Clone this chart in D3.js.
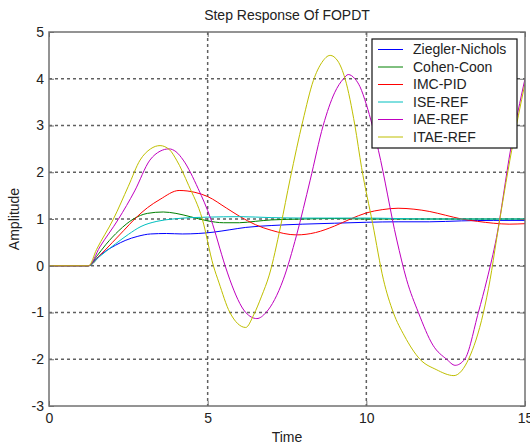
<!DOCTYPE html>
<html>
<head>
<meta charset="utf-8">
<script src="https://cdn.jsdelivr.net/npm/d3@7"></script>
<style>
  body { margin: 0; background: #fff; }
  svg text { font-family: "Liberation Sans", Arial, Helvetica, sans-serif; }
</style>
</head>
<body>
<div id="container"></div>
<script>
// series names and colours (MATLAB default order)
const seriesNames = ["Ziegler-Nichols", "Cohen-Coon", "IMC-PID", "ISE-REF", "IAE-REF", "ITAE-REF"];
const seriesColors = ["#0000ff", "#008000", "#ff0000", "#00bfbf", "#bf00bf", "#bfbf00"];

// values
const tZN = [0, 1.25, 1.5, 1.8, 2.1, 2.4, 2.8, 3.2, 3.7, 4.2, 4.7, 5.2, 5.7, 6.2, 7, 8, 9, 10, 11, 12, 13, 14, 15];
const yZN = [0, 0, 0.16, 0.32, 0.44, 0.54, 0.63, 0.68, 0.69, 0.68, 0.69, 0.72, 0.77, 0.82, 0.86, 0.89, 0.91, 0.93, 0.94, 0.94, 0.96, 0.97, 0.97];

const tCC = [0, 1.25, 1.5, 1.8, 2.2, 2.66, 3.1, 3.6, 4.0, 4.45, 5.0, 5.5, 6.0, 6.5, 7.0, 8, 9, 10, 11, 12, 13, 14, 15];
const yCC = [0, 0, 0.2, 0.46, 0.75, 1.0, 1.12, 1.15, 1.12, 1.05, 0.96, 0.92, 0.92, 0.95, 0.98, 1.0, 1.01, 1.0, 1.0, 1.0, 1.0, 1.0, 1.0];

const tIMC = [0, 1.25, 1.6, 2.0, 2.35, 2.7, 3.1, 3.5, 4.1, 4.6, 5.0, 5.6, 6.0, 6.5, 7.0, 7.8, 8.4, 9.0, 9.5, 10.0, 10.5, 11.0, 11.5, 12.0, 12.5, 13.0, 13.5, 14.0, 14.5, 15];
const yIMC = [0, 0, 0.22, 0.5, 0.75, 1.0, 1.24, 1.42, 1.61, 1.57, 1.48, 1.23, 1.06, 0.88, 0.76, 0.66, 0.71, 0.85, 1.0, 1.13, 1.2, 1.23, 1.21, 1.16, 1.08, 1.0, 0.95, 0.91, 0.89, 0.9];

const tISE = [0, 1.25, 1.6, 2.1, 2.5, 2.9, 3.4, 3.9, 4.5, 5.0, 6.0, 7, 8, 9, 10, 11, 12, 13, 14, 15];
const yISE = [0, 0, 0.2, 0.47, 0.67, 0.84, 0.95, 1.0, 1.03, 1.04, 1.05, 1.03, 1.02, 1.02, 1.02, 1.01, 1.0, 1.0, 1.0, 1.0];

const tIAE = [0, 1.25, 1.6, 2.19, 2.7, 3.18, 3.5, 3.78, 4.0, 4.23, 4.7, 5.1, 5.55, 5.7, 6.2, 6.55, 6.84, 7.38, 7.8, 8.23, 8.64, 9.0, 9.28, 9.43, 9.64, 9.8, 10.0, 10.38, 10.96, 11.27, 11.64, 12.1, 12.53, 12.8, 13.1, 13.53, 13.8, 14.1, 14.55, 15];
const yIAE = [0, 0, 0.4, 1.0, 1.6, 2.26, 2.45, 2.5, 2.44, 2.26, 1.65, 1.0, 0.0, -0.3, -1.0, -1.13, -1.0, -0.3, 0.65, 1.83, 3.0, 3.7, 4.0, 4.09, 4.0, 3.83, 3.45, 2.47, 0.55, -0.3, -1.0, -1.7, -2.0, -2.13, -2.0, -1.0, -0.3, 0.6, 2.5, 4.0];

const tITAE = [0, 1.25, 1.5, 2.03, 2.5, 2.87, 3.2, 3.5, 3.8, 4.02, 4.4, 4.83, 5.18, 5.35, 5.7, 6.2, 6.45, 6.7, 6.94, 7.3, 7.6, 8.0, 8.33, 8.6, 8.86, 9.1, 9.33, 9.64, 9.85, 10.2, 10.54, 10.85, 11.2, 11.69, 12.2, 12.76, 13.0, 13.22, 13.69, 13.9, 14.1, 14.58, 15];
const yITAE = [0, 0, 0.35, 1.0, 1.7, 2.26, 2.5, 2.57, 2.48, 2.26, 1.72, 1.0, 0.0, -0.35, -1.0, -1.32, -1.05, -0.65, -0.2, 0.85, 1.86, 3.1, 3.96, 4.35, 4.5, 4.38, 4.0, 3.0, 2.1, 0.9, -0.3, -1.0, -1.5, -2.0, -2.22, -2.35, -2.25, -2.0, -1.0, -0.3, 0.55, 2.47, 3.9];

const xTicks = [0, 5, 10, 15];
const yTicks = [-3, -2, -1, 0, 1, 2, 3, 4, 5];

const seriesT = [tZN, tCC, tIMC, tISE, tIAE, tITAE];
const seriesY = [yZN, yCC, yIMC, yISE, yIAE, yITAE];

const W = 530, H = 447;
const margin = { top: 32, right: 5, bottom: 41, left: 49 };
const width = W - margin.left - margin.right;
const height = H - margin.top - margin.bottom;
const axisColor = "#707070";
const textColor = "#222";

const svg = d3.select("#container").append("svg")
  .attr("width", W)
  .attr("height", H);

svg.append("rect").attr("width", W).attr("height", H).attr("fill", "#fff");

const g = svg.append("g")
  .attr("transform", `translate(${margin.left}, ${margin.top})`);

const x = d3.scaleLinear().domain([0, 15]).range([0, width]);
const y = d3.scaleLinear().domain([-3, 5]).range([height, 0]);

// grid (dotted)
g.append("g").selectAll("line")
  .data(xTicks.slice(1, -1))
  .join("line")
  .attr("x1", d => x(d)).attr("x2", d => x(d))
  .attr("y1", 0).attr("y2", height)
  .attr("stroke", "#606060")
  .attr("stroke-width", 1.5)
  .attr("stroke-dasharray", "3,3");

g.append("g").selectAll("line")
  .data(yTicks.slice(1, -1))
  .join("line")
  .attr("y1", d => y(d)).attr("y2", d => y(d))
  .attr("x1", 0).attr("x2", width)
  .attr("stroke", "#606060")
  .attr("stroke-width", 1.5)
  .attr("stroke-dasharray", "3,3");

// curves
g.append("clipPath").attr("id", "plot-clip")
  .append("rect").attr("width", width).attr("height", height);

const line = d3.line()
  .x(d => x(d[0]))
  .y(d => y(d[1]))
  .curve(d3.curveMonotoneX);

seriesNames.forEach((name, i) => {
  const pts = seriesT[i].map((t, j) => [t, seriesY[i][j]]);
  g.append("path")
    .datum(pts)
    .attr("clip-path", "url(#plot-clip)")
    .attr("fill", "none")
    .attr("stroke", seriesColors[i])
    .attr("stroke-width", 1)
    .attr("d", line);
});

// axes with inward ticks
function styleAxis(sel) {
  sel.select(".domain").remove();
  sel.selectAll(".tick line").attr("stroke", axisColor).attr("stroke-width", 1);
  sel.selectAll(".tick text")
    .attr("fill", textColor)
    .style("font-size", "14px")
    .style("font-family", "'Liberation Sans', Arial, sans-serif");
}

const plainFormat = d => String(d); // hyphen minus like the reference

g.append("g")
  .attr("transform", `translate(0, ${height})`)
  .call(d3.axisBottom(x).tickValues(xTicks).tickFormat(plainFormat).tickSizeInner(-5).tickSizeOuter(0).tickPadding(7))
  .call(styleAxis);

g.append("g")
  .call(d3.axisLeft(y).tickValues(yTicks).tickFormat(plainFormat).tickSizeInner(-5).tickSizeOuter(0).tickPadding(5))
  .call(styleAxis);

g.append("g")
  .call(d3.axisTop(x).tickValues(xTicks).tickSizeInner(-5).tickSizeOuter(0).tickFormat(""))
  .call(styleAxis);

g.append("g")
  .attr("transform", `translate(${width}, 0)`)
  .call(d3.axisRight(y).tickValues(yTicks).tickSizeInner(-5).tickSizeOuter(0).tickFormat(""))
  .call(styleAxis);

// box
g.append("rect")
  .attr("width", width)
  .attr("height", height)
  .attr("fill", "none")
  .attr("stroke", axisColor)
  .attr("stroke-width", 1.5);

// title and labels
svg.append("text")
  .attr("x", margin.left + width / 2)
  .attr("y", 20)
  .attr("text-anchor", "middle")
  .style("font-size", "14px")
  .attr("fill", textColor)
  .text("Step Response Of FOPDT");

svg.append("text")
  .attr("x", margin.left + width / 2)
  .attr("y", 442)
  .attr("text-anchor", "middle")
  .style("font-size", "14px")
  .attr("fill", textColor)
  .text("Time");

svg.append("text")
  .attr("transform", `translate(19, ${margin.top + height / 2}) rotate(-90)`)
  .attr("text-anchor", "middle")
  .style("font-size", "14px")
  .attr("fill", textColor)
  .text("Amplitude");

// legend
const legendX = margin.left + width - 153;
const legendY = margin.top + 7;
const legendW = 145, legendH = 109;

const legend = svg.append("g")
  .attr("transform", `translate(${legendX}, ${legendY})`);

legend.append("rect")
  .attr("width", legendW)
  .attr("height", legendH)
  .attr("fill", "#fff")
  .attr("stroke", "#111")
  .attr("stroke-width", 1.2);

seriesNames.forEach((name, i) => {
  const ry = 10.5 + i * 17.5;
  legend.append("line")
    .attr("x1", 6).attr("x2", 31)
    .attr("y1", ry).attr("y2", ry)
    .attr("stroke", seriesColors[i])
    .attr("stroke-width", 1);
  legend.append("text")
    .attr("x", 41)
    .attr("y", ry)
    .attr("dy", "0.35em")
    .style("font-size", "14px")
    .attr("fill", textColor)
    .text(name);
});
</script>
</body>
</html>
